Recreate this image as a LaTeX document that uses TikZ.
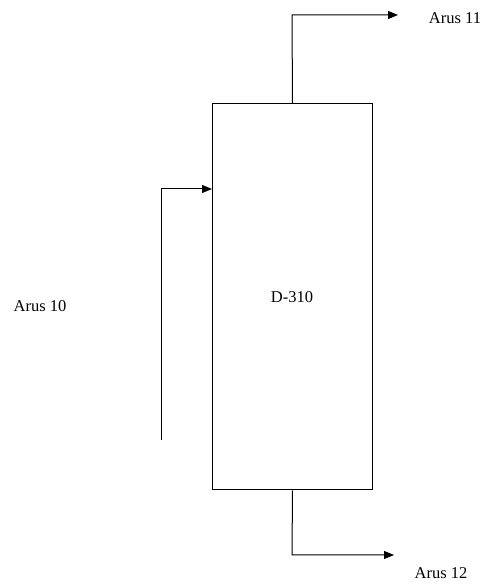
\documentclass[tikz,border=0pt]{standalone}
\usepackage{fontspec}
\setmainfont{Liberation Serif}
\usetikzlibrary{arrows.meta}
\begin{document}
\begin{tikzpicture}[x=1pt,y=1pt,
  flow/.style={line width=1pt,-{Triangle[length=10pt,width=8pt]}},
  lbl/.style={font=\fontsize{16.5}{19}\selectfont,inner sep=0pt}]
\useasboundingbox (0,0) rectangle (486,584);
\node[draw,line width=1pt,minimum width=160pt,minimum height=386pt,inner sep=0pt,anchor=south west] (d310) at (212,93.5) {};
\node[lbl] (dlab) at (292,287) {D-310};
\coordinate (topbend) at (292,569);
\coordinate (topend) at (398,569);
\coordinate (botbend) at (292,29);
\coordinate (botend) at (394,29);
\coordinate (instart) at (161,144);
\coordinate (inbend) at (161,395);
\coordinate (inend) at (d310.west |- inbend);
\draw[flow] (d310.north) -- (topbend) -- (topend);
\draw[flow] (d310.south) -- (botbend) -- (botend);
\draw[flow] (instart) -- (inbend) -- (inend);
\node[lbl] (a11) at (455,566) {Arus 11};
\node[lbl] (a12) at (441,11) {Arus 12};
\node[lbl] (a10) at (40,278) {Arus 10};
\end{tikzpicture}
\end{document}
